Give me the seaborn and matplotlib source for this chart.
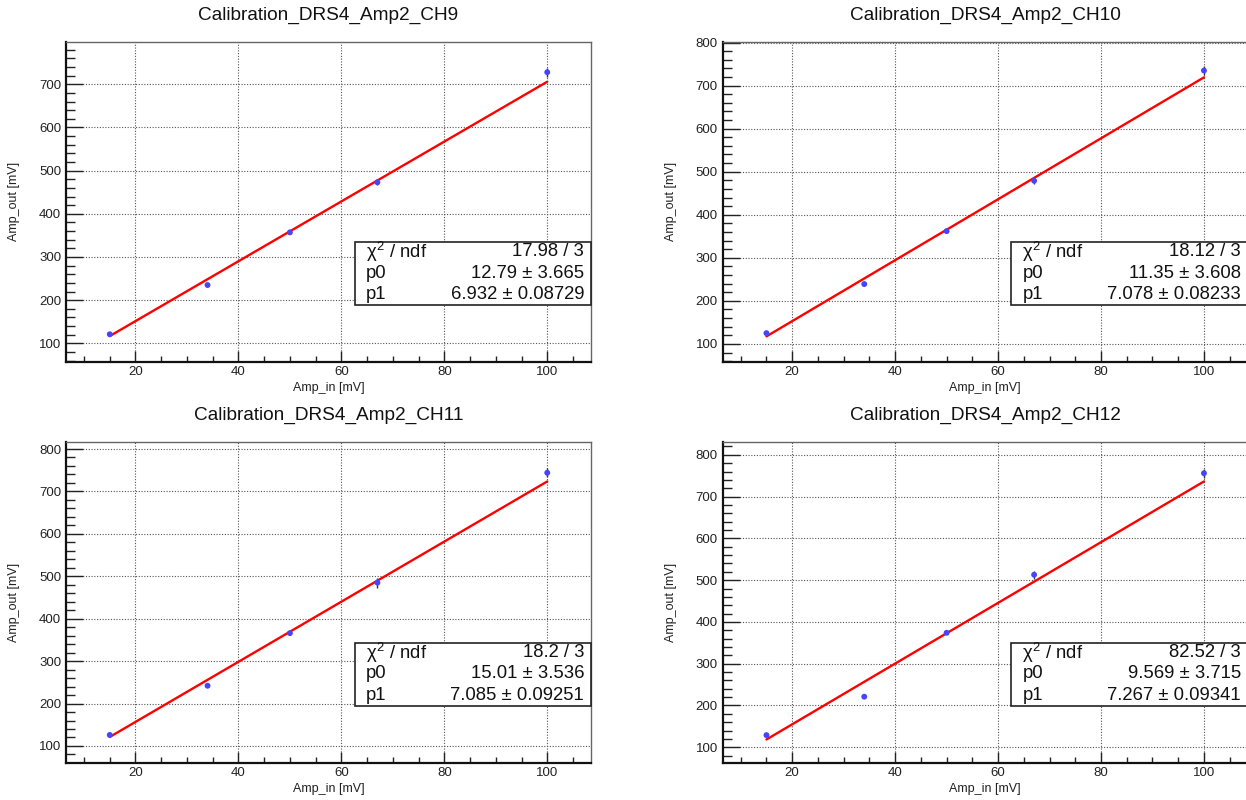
import numpy as np
import pandas as pd
import matplotlib
matplotlib.use("Agg")
import matplotlib.pyplot as plt
import seaborn as sns
from matplotlib.ticker import MultipleLocator
from matplotlib.patches import Rectangle

# ---------------- data ----------------
titles = ["Calibration_DRS4_Amp2_CH9", "Calibration_DRS4_Amp2_CH10",
          "Calibration_DRS4_Amp2_CH11", "Calibration_DRS4_Amp2_CH12"]
amp_in = [15, 34, 50, 67, 100]
amp_out_ch9 = [121, 235, 357, 473, 728]
amp_out_ch10 = [125, 239, 362, 479, 735]
amp_out_ch11 = [126, 242, 366, 485, 744]
amp_out_ch12 = [129, 221, 374, 513, 756]
err_ch9 = [2, 3, 4, 7, 10]
err_ch10 = [2, 3, 4, 8, 10]
err_ch11 = [2, 3, 4, 12, 11]
err_ch12 = [2, 3, 4, 10, 11]
chi2_ndf = ["17.98 / 3", "18.12 / 3", "18.2 / 3", "82.52 / 3"]
p0 = [12.79, 11.35, 15.01, 9.569]
p0_err = [3.665, 3.608, 3.536, 3.715]
p1 = [6.932, 7.078, 7.085, 7.267]
p1_err = [0.08729, 0.08233, 0.09251, 0.09341]

amp_out = [amp_out_ch9, amp_out_ch10, amp_out_ch11, amp_out_ch12]
errs = [err_ch9, err_ch10, err_ch11, err_ch12]

# ---------------- style ----------------
sns.set_theme(style="white")
plt.rcParams["font.family"] = ["Liberation Sans", "DejaVu Sans"]
plt.rcParams["mathtext.fontset"] = "custom"
plt.rcParams["mathtext.rm"] = "Liberation Sans"
plt.rcParams["mathtext.it"] = "Liberation Sans"
plt.rcParams["mathtext.bf"] = "Liberation Sans:bold"

W, H = 1246, 800
fig = plt.figure(figsize=(W / 100, H / 100), dpi=100)
fig.patch.set_facecolor("white")

# axes rectangles in pixels (left, top, width, height)
rects = [(66, 41.7, 525, 320), (722.7, 41.7, 525, 320),
         (66, 442.3, 525, 320.4), (722.7, 442.3, 525, 320.4)]
ylims = [(57.4, 798.7), (58.7, 802), (60.6, 815.8), (63, 830)]
xlim = (6.5, 108.5)

for i in range(4):
    l, t, w, h = rects[i]
    ax = fig.add_axes([l / W, 1 - (t + h) / H, w / W, h / H])
    ax.set_facecolor("white")

    df = pd.DataFrame({"x": amp_in, "y": amp_out[i], "e": errs[i]})
    xs = np.array([min(amp_in), max(amp_in)], dtype=float)
    fit = pd.DataFrame({"x": xs, "y": p0[i] + p1[i] * xs})

    ax.errorbar(df["x"], df["y"], yerr=df["e"], fmt="none", ecolor="#333333",
                elinewidth=1.0, capsize=0, zorder=3)
    sns.lineplot(data=fit, x="x", y="y", ax=ax, color="#ff0000", lw=1.7, zorder=4)
    sns.scatterplot(data=df, x="x", y="y", ax=ax, color="#4545ff", s=18,
                    edgecolor="none", zorder=5)

    ax.set_xlim(*xlim)
    ax.set_ylim(*ylims[i])
    ax.xaxis.set_major_locator(MultipleLocator(20))
    ax.xaxis.set_minor_locator(MultipleLocator(5))
    ax.yaxis.set_major_locator(MultipleLocator(100))
    ax.yaxis.set_minor_locator(MultipleLocator(20))

    ax.grid(True, which="major", ls=(0, (1, 1.5)), color="#555555", lw=0.8)
    ax.set_axisbelow(True)

    ax.tick_params(axis="both", which="both", direction="in", top=False, right=False,
                   bottom=True, left=True, labelsize=9.5, colors="#222222",
                   width=1.0)
    ax.tick_params(axis="x", which="major", length=8, pad=3)
    ax.tick_params(axis="x", which="minor", length=4)
    ax.tick_params(axis="y", which="major", length=12, pad=3.5)
    ax.tick_params(axis="y", which="minor", length=6.5)

    for s in ["left", "bottom"]:
        ax.spines[s].set_linewidth(1.6)
        ax.spines[s].set_color("#111111")
    for s in ["top", "right"]:
        ax.spines[s].set_linewidth(1.0)
        ax.spines[s].set_color("#666666")

    ax.set_xlabel("Amp_in [mV]", fontsize=9, color="#222222", va="center")
    ax.xaxis.set_label_coords(0.5, -26.3 / h)
    ax.set_ylabel("Amp_out [mV]", fontsize=9, color="#222222", va="center", ha="center")
    ax.yaxis.set_label_coords(-52 / w, 0.5)

    ax.text(0.5, 1 + 26.7 / h, titles[i], transform=ax.transAxes, ha="center",
            va="center", fontsize=13.7, color="#111111")

    # stat box
    ax.add_patch(Rectangle((0.55, 0.176), 0.45, 0.198, transform=ax.transAxes,
                           fc="white", ec="#222222", lw=1.2, zorder=6, clip_on=False))
    rows = [(r"$\chi^{2}$ / ndf", chi2_ndf[i]),
            ("p0", f"{p0[i]} ± {p0_err[i]}"),
            ("p1", f"{p1[i]} ± {p1_err[i]}")]
    ys = [0.343, 0.277, 0.211]
    for (lab, val), yy in zip(rows, ys):
        ax.text(0.571, yy, lab, transform=ax.transAxes, ha="left", va="center",
                fontsize=13.3, color="#111111", zorder=7)
        ax.text(0.987, yy, val, transform=ax.transAxes, ha="right", va="center",
                fontsize=13.3, color="#111111", zorder=7)

fig.savefig("out.png", dpi=100, facecolor="white")
